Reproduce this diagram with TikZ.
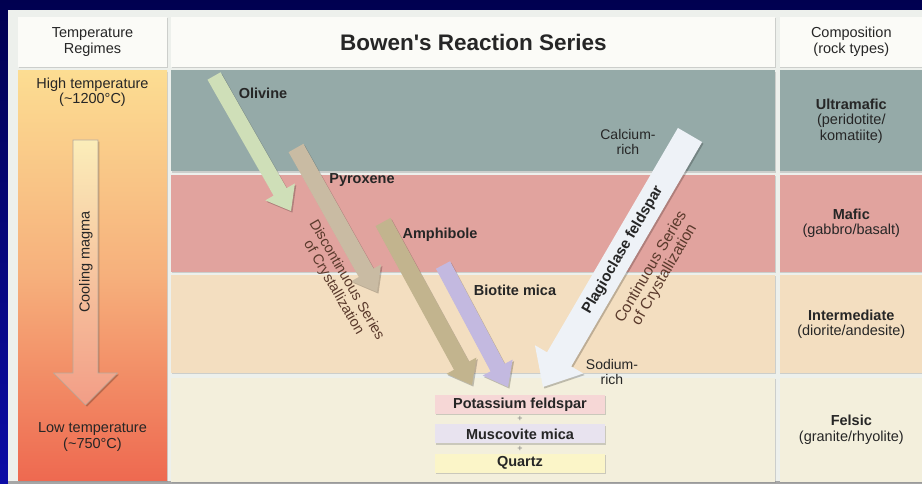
\documentclass[tikz,border=0pt]{standalone}
\usepackage{fontspec}
\setmainfont{Liberation Sans}
\usepackage{xcolor}
\usepackage{tikz}
\usetikzlibrary{positioning, calc, shadows}

\definecolor{navytop}{HTML}{000050}
\definecolor{navybot}{HTML}{0C0CA6}
\definecolor{panelgray}{HTML}{EDF0EC}
\definecolor{headwhite}{HTML}{FBFBF7}
\definecolor{ultracol}{HTML}{95AAA8}
\definecolor{maficcol}{HTML}{E1A39E}
\definecolor{intercol}{HTML}{F3DEC0}
\definecolor{felsiccol}{HTML}{F3EFDC}
\definecolor{hotcol}{HTML}{FCDD92}
\definecolor{warmcol}{HTML}{F6B07C}
\definecolor{coldcol}{HTML}{EE6950}
\definecolor{coolhi}{HTML}{FBEDB9}
\definecolor{coollo}{HTML}{F29D86}
\definecolor{olivinecol}{HTML}{CFDFB8}
\definecolor{pyroxcol}{HTML}{C9BBA3}
\definecolor{amphcol}{HTML}{C2B48E}
\definecolor{biotcol}{HTML}{C3B9E0}
\definecolor{plagcol}{HTML}{EEF2F7}
\definecolor{ink}{HTML}{262626}
\definecolor{seriesink}{HTML}{5A3A2C}
\definecolor{kfscol}{HTML}{F6D7D6}
\definecolor{musccol}{HTML}{E8E3EF}
\definecolor{qtzcol}{HTML}{FBF5C8}

% fat arrow: tail, tip, half shaft, half head, head length, look
\newcommand{\mineralarrow}[6]{%
  \path ($(#2)!#5!(#1)$) coordinate (headbase);
  \fill[black, opacity=0.22, transform canvas={shift={(1.4pt,-1.6pt)}}]
    ($(#1)!#3!90:(#2)$) -- ($(headbase)!#3!90:(#2)$) -- ($(headbase)!#4!90:(#2)$) -- (#2)
    -- ($(headbase)!#4!-90:(#2)$) -- ($(headbase)!#3!-90:(#2)$) -- ($(#1)!#3!-90:(#2)$) -- cycle;
  \path[#6]
    ($(#1)!#3!90:(#2)$) -- ($(headbase)!#3!90:(#2)$) -- ($(headbase)!#4!90:(#2)$) -- (#2)
    -- ($(headbase)!#4!-90:(#2)$) -- ($(headbase)!#3!-90:(#2)$) -- ($(#1)!#3!-90:(#2)$) -- cycle;
}
% straight apostrophe, past the TeX mapping
\newcommand{\straightquote}{\XeTeXglyph\XeTeXcharglyph"27 }

\begin{document}
\begin{tikzpicture}[
    x=1pt, y=-1pt,
    font=\fontsize{14.5}{15.5}\selectfont,
    text=ink,
    cell/.style={rectangle, fill=#1, inner sep=0pt, align=center, drop shadow={shadow xshift=0.6pt, shadow yshift=-1.2pt, opacity=0.3}},
    lbl/.style={inner sep=0pt, align=center},
    mineral/.style={lbl, font=\fontsize{14.5}{15.5}\selectfont\bfseries},
    series/.style={lbl, text=seriesink, font=\fontsize{14.5}{15}\selectfont},
    endbox/.style={rectangle, fill=#1, minimum width=170pt, minimum height=19pt, inner sep=0pt, font=\fontsize{14.5}{15.5}\selectfont\bfseries, drop shadow={shadow xshift=0.6pt, shadow yshift=-1.2pt, opacity=0.35}},
    plus/.style={inner sep=0pt, text=gray, font=\fontsize{9}{9}\selectfont},
]
    \useasboundingbox (0,0) rectangle (922,484);
    \shade[top color=navytop, bottom color=navybot] (0,0) rectangle (922,484);
    \fill[panelgray] (8,10) rectangle (922,484);
    \fill[black!35] (8,481) rectangle (922,484);

    % header row
    \node[cell=headwhite, minimum width=149pt, minimum height=50pt] (hdrtemp) at (92.5,42) {Temperature\\Regimes};
    \node[cell=headwhite, minimum width=604pt, minimum height=50pt, right=4pt of hdrtemp, font=\fontsize{22.5}{24}\selectfont\bfseries] (hdrbowen) {Bowen\straightquote s Reaction Series};
    \node[cell=headwhite, minimum width=143pt, minimum height=50pt, right=4pt of hdrbowen] (hdrcomp) {Composition\\(rock types)};

    % temperature column
    \node[cell=hotcol, top color=hotcol, bottom color=coldcol, middle color=warmcol, minimum width=149pt, minimum height=410pt, below=3pt of hdrtemp] (tempcol) {};

    % rows of the series
    \node[cell=ultracol, minimum width=604pt, minimum height=101pt, below=3pt of hdrbowen] (rowultra) {};
    \node[cell=maficcol, minimum width=604pt, minimum height=97pt, below=3pt of rowultra] (rowmafic) {};
    \node[cell=intercol, minimum width=604pt, minimum height=98pt, below=3pt of rowmafic] (rowinter) {};
    \node[cell=felsiccol, minimum width=604pt, minimum height=104pt, below=4pt of rowinter] (rowfelsic) {};

    % composition column
    \node[cell=ultracol, minimum width=143pt, minimum height=101pt, right=4pt of rowultra] (ultra) {\textbf{Ultramafic}\\(peridotite/\\komatiite)};
    \node[cell=maficcol, minimum width=143pt, minimum height=97pt, right=4pt of rowmafic] (mafic) {\textbf{Mafic}\\(gabbro/basalt)};
    \node[cell=intercol, minimum width=143pt, minimum height=98pt, right=4pt of rowinter] (inter) {\textbf{Intermediate}\\(diorite/andesite)};
    \node[cell=felsiccol, minimum width=143pt, minimum height=104pt, right=4pt of rowfelsic] (felsic) {\textbf{Felsic}\\(granite/rhyolite)};

    % cooling arrow
    \node[lbl] (hightemp) at (92.5,92) {High temperature\\(\textasciitilde1200°C)};
    \node[lbl] (lowtemp) at (92.5,437) {Low temperature\\(\textasciitilde750°C)};
    \coordinate (coolT) at (85.5,140);
    \coordinate (coolH) at (85.5,405);
    \mineralarrow{coolT}{coolH}{12.5pt}{32pt}{32pt}{top color=coolhi, bottom color=coollo, draw=brown!50!black!45, line width=0.6pt}
    \node[lbl, rotate=90] (cooling) at (86,262) {Cooling magma};

    % discontinuous branch
    \coordinate (olT) at (214,76);   \coordinate (olH) at (291,211);
    \coordinate (pxT) at (296,148);  \coordinate (pxH) at (377,292);
    \coordinate (amT) at (383,222);  \coordinate (amH) at (472,385);
    \coordinate (biT) at (443,265);  \coordinate (biH) at (508,387);
    \mineralarrow{olT}{olH}{7.5pt}{17pt}{22pt}{fill=olivinecol}
    \mineralarrow{pxT}{pxH}{8.5pt}{17pt}{22pt}{fill=pyroxcol}
    \mineralarrow{amT}{amH}{8.5pt}{17pt}{22pt}{fill=amphcol}
    \mineralarrow{biT}{biH}{8pt}{17pt}{22pt}{fill=biotcol}

    % continuous branch
    \coordinate (plT) at (690,135);  \coordinate (plH) at (543,387);
    \mineralarrow{plT}{plH}{14pt}{28pt}{32pt}{fill=plagcol}

    \node[mineral] (olivine) at (263,93) {Olivine};
    \node[mineral] (pyroxene) at (362,180) {Pyroxene};
    \node[mineral] (amphibole) at (440,235) {Amphibole};
    \node[mineral] (biotite) at (515,290) {Biotite mica};
    \node[mineral, rotate=59.7, font=\fontsize{15}{16}\selectfont\bfseries] (plag) at (623,250) {Plagioclase feldspar};
    \node[series, rotate=59.7, font=\fontsize{15.5}{15.5}\selectfont] (contser) at (658,271) {Continuous Series\\of Crystallization};
    \node[series, rotate=-60] (discser) at (340,284) {Discontinuous Series\\of Crystallization};
    \node[lbl, font=\fontsize{14}{15}\selectfont] (carich) at (628,142) {Calcium-\\rich};
    \node[lbl, font=\fontsize{14}{15}\selectfont] (narich) at (612,372) {Sodium-\\rich};

    % end products
    \node[endbox=kfscol] (kfs) at (520,404.5) {Potassium feldspar};
    \node[endbox=musccol, below=10pt of kfs] (musc) {Muscovite mica};
    \node[endbox=qtzcol, below=10pt of musc] (qtz) {Quartz};
    \node[plus] (plusa) at ($(kfs.south)!0.5!(musc.north)$) {+};
    \node[plus] (plusb) at ($(musc.south)!0.5!(qtz.north)$) {+};
\end{tikzpicture}
\end{document}
